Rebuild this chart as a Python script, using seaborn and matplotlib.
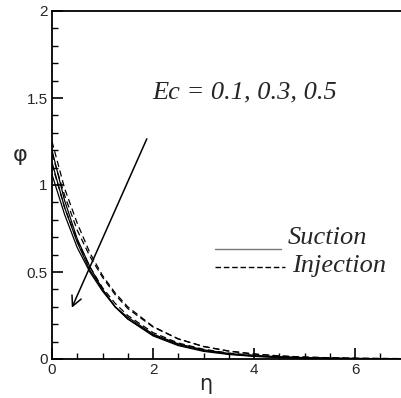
import matplotlib
matplotlib.use("Agg")
import matplotlib.pyplot as plt
import seaborn as sns
import pandas as pd
from matplotlib.ticker import MultipleLocator

sns.set_style("white")
plt.rcParams['font.family'] = ['Liberation Sans', 'DejaVu Sans']

eta = [0, 0.25, 0.5, 0.75, 1, 1.25, 1.5, 2, 2.5, 3, 3.5, 4, 4.5, 5, 5.5, 6, 7]
suction_01 = [1.20, 0.91, 0.69, 0.53, 0.40, 0.30, 0.23, 0.133, 0.077, 0.044, 0.026, 0.015, 0.008, 0.005, 0.003, 0.002, 0.0005]
suction_03 = [1.13, 0.87, 0.67, 0.51, 0.40, 0.30, 0.23, 0.138, 0.082, 0.048, 0.029, 0.017, 0.010, 0.006, 0.003, 0.002, 0.001]
suction_05 = [1.06, 0.83, 0.64, 0.50, 0.39, 0.30, 0.24, 0.143, 0.087, 0.053, 0.032, 0.019, 0.012, 0.007, 0.004, 0.003, 0.001]
injection_01 = [1.25, 0.98, 0.78, 0.61, 0.48, 0.38, 0.30, 0.187, 0.116, 0.072, 0.045, 0.028, 0.017, 0.011, 0.007, 0.004, 0.002]
injection_03 = [1.18, 0.94, 0.74, 0.59, 0.47, 0.37, 0.29, 0.184, 0.115, 0.072, 0.046, 0.029, 0.018, 0.011, 0.007, 0.004, 0.002]
injection_05 = [1.12, 0.87, 0.68, 0.53, 0.41, 0.32, 0.25, 0.152, 0.092, 0.056, 0.034, 0.021, 0.012, 0.008, 0.005, 0.003, 0.001]

curves = {
    ('Suction', 0.1): suction_01, ('Suction', 0.3): suction_03, ('Suction', 0.5): suction_05,
    ('Injection', 0.1): injection_01, ('Injection', 0.3): injection_03, ('Injection', 0.5): injection_05,
}

fig = plt.figure(figsize=(4.01, 3.98), dpi=100)
ax = fig.add_axes([52/401, 39/398, 353.5/401, 348/398])

for (kind, ec), vals in curves.items():
    df = pd.DataFrame({'eta': eta, 'phi': vals})
    ls = '-' if kind == 'Suction' else (0, (5, 3))
    sns.lineplot(data=df, x='eta', y='phi', ax=ax, color='black', lw=0.9,
                 linestyle=ls, legend=False)

ax.set_xlim(0, 7)
ax.set_ylim(0, 2)
ax.xaxis.set_minor_locator(MultipleLocator(0.5))
ax.yaxis.set_minor_locator(MultipleLocator(0.1))
ax.set_yticks([0, 0.5, 1, 1.5, 2])
ax.set_yticklabels(['0', '0.5', '1', '1.5', '2'])
ax.set_xticks([0, 2, 4, 6])
ax.set_xticklabels(['0', '2', '4', '6'])
ax.tick_params(which='major', direction='in', length=8, width=1.2, labelsize=11, pad=3, color='black')
ax.tick_params(which='minor', direction='in', length=4, width=1, color='black')
ax.tick_params(axis='both', which='both', bottom=True, left=True, top=False, right=False)
for s in ax.spines.values():
    s.set_color('black')
    s.set_linewidth(1.3)
ax.spines['right'].set_visible(False)

ax.set_xlabel('η', fontsize=15, family='DejaVu Sans')
ax.xaxis.set_label_coords((206 - 52) / 353.5, -(384 - 359) / 348)
ax.xaxis.label.set_va('center')
ax.set_ylabel('φ', fontsize=16, family='DejaVu Sans', rotation=0)
ax.yaxis.set_label_coords((20 - 52) / 353.5, (359 - 155) / 348)
ax.yaxis.label.set_va('center')

# Arrow
ax.annotate('', xy=(0.37, 0.28), xytext=(1.9, 1.28),
            arrowprops=dict(arrowstyle='->', color='black', lw=1.1, mutation_scale=18))
ax.text(1.98, 1.5, 'Ec = 0.1, 0.3, 0.5', fontsize=19,
        family='Liberation Serif', style='italic', ha='left', va='baseline')

# Legend-like labels
ax.plot([3.23, 4.53], [0.632, 0.632], color='#777777', lw=1)
ax.plot([3.23, 4.61], [0.529, 0.529], color='black', lw=1, linestyle=(0, (4, 2)))
ax.text(4.67, 0.661, 'Suction', fontsize=19, family='Liberation Serif', style='italic', va='baseline')
ax.text(4.75, 0.50, 'Injection', fontsize=19, family='Liberation Serif', style='italic', va='baseline')

fig.savefig('out.png', dpi=100)
